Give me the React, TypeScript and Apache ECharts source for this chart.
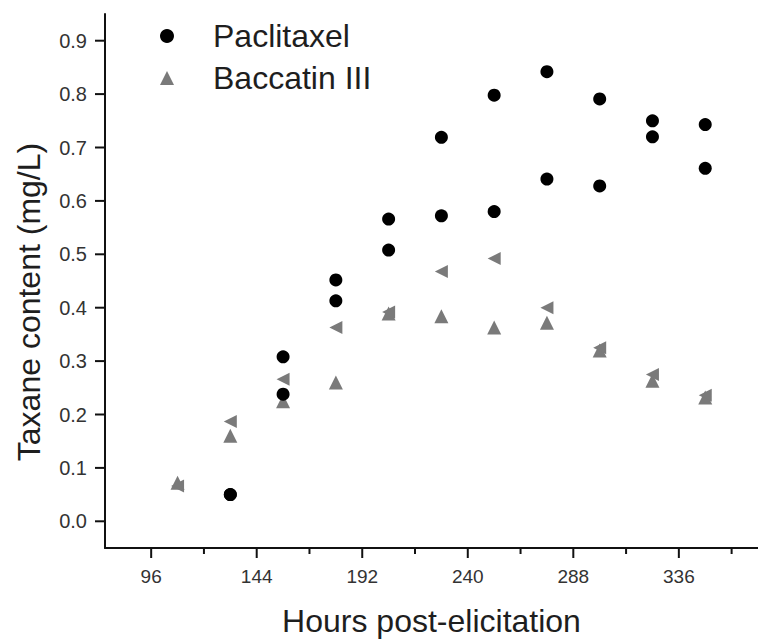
import React, { useEffect, useRef } from "react";
import * as echarts from "echarts";

const hours = [108, 132, 156, 180, 204, 228, 252, 276, 300, 324, 348];
const paclitaxelA = [null, 0.05, 0.308, 0.452, 0.566, 0.719, 0.798, 0.842, 0.791, 0.75, 0.743];
const paclitaxelB = [null, 0.05, 0.238, 0.413, 0.508, 0.572, 0.58, 0.641, 0.628, 0.72, 0.661];
const baccatinUp = [0.072, 0.16, 0.225, 0.26, 0.389, 0.384, 0.363, 0.372, 0.32, 0.263, 0.232];
const baccatinLeft = [0.066, 0.187, 0.266, 0.363, 0.392, 0.468, 0.492, 0.4, 0.325, 0.275, 0.236];
const xMajorTicks = [96, 144, 192, 240, 288, 336];
const xMinorTicks = [120, 168, 216, 264, 312, 360];
const yTicks = [0, 0.1, 0.2, 0.3, 0.4, 0.5, 0.6, 0.7, 0.8, 0.9];

const FONT = "'Liberation Sans', Arial, Helvetica, sans-serif";
const AXIS_COLOR = "#111";

function pairs(xs: number[], ys: (number | null)[]) {
  const out: number[][] = [];
  xs.forEach((x, i) => {
    const y = ys[i];
    if (y !== null && y !== undefined) out.push([x, y]);
  });
  return out;
}

export default function App() {
  const ref = useRef<HTMLDivElement>(null);
  useEffect(() => {
    document.body.style.margin = "0";
    document.body.style.overflow = "hidden";
    if (!ref.current) return;
    const chart = echarts.init(ref.current, undefined, { renderer: "svg" });
    const xMin = 75;
    const xMax = 372;
    const yMin = -0.05;
    const yMax = 0.95;

    // tick marks: [x, y, length, orientation (0 = bottom axis, 1 = left axis)]
    const tickData = [
      ...xMajorTicks.map((v) => [v, yMin, 10, 0]),
      ...xMinorTicks.map((v) => [v, yMin, 6, 0]),
      ...yTicks.map((v) => [xMin, v, 10, 1]),
    ];

    chart.setOption({
      animation: false,
      backgroundColor: "#ffffff",
      textStyle: { fontFamily: FONT },
      tooltip: { show: false },
      grid: {
        left: 105,
        right: 0,
        top: 14,
        bottom: 91,
        containLabel: false,
        outerBoundsMode: "none",
      },
      legend: {
        orient: "vertical",
        left: 160,
        top: 20,
        padding: 0,
        itemWidth: 14,
        itemHeight: 14,
        itemGap: 10,
        data: ["Paclitaxel", "Baccatin III"],
        textStyle: {
          fontFamily: FONT,
          fontSize: 32,
          lineHeight: 30,
          color: "#1e1e1e",
          padding: [0, 0, 0, 34],
        },
      },
      xAxis: {
        type: "value",
        min: xMin,
        max: xMax,
        name: "Hours post-elicitation",
        nameLocation: "middle",
        nameGap: 57,
        nameTextStyle: { fontFamily: FONT, fontSize: 32, color: "#1e1e1e" },
        axisLine: { show: true, onZero: false, lineStyle: { color: AXIS_COLOR, width: 2 } },
        axisTick: { show: false },
        axisLabel: {
          show: true,
          customValues: xMajorTicks,
          margin: 19,
          fontFamily: FONT,
          fontSize: 19,
          color: "#333",
        },
        splitLine: { show: false },
      },
      yAxis: {
        type: "value",
        min: yMin,
        max: yMax,
        name: "Taxane content (mg/L)",
        nameLocation: "middle",
        nameGap: 60,
        nameTextStyle: {
          fontFamily: FONT,
          fontSize: 32,
          color: "#1e1e1e",
          padding: [0, 42, 0, 0],
        },
        axisLine: { show: true, onZero: false, lineStyle: { color: AXIS_COLOR, width: 2 } },
        axisTick: { show: false },
        axisLabel: {
          show: true,
          customValues: yTicks,
          margin: 18,
          fontFamily: FONT,
          fontSize: 20,
          color: "#333",
          formatter: (v: number) => v.toFixed(1),
        },
        splitLine: { show: false },
      },
      series: [
        {
          name: "Baccatin III",
          type: "scatter",
          symbol: "triangle",
          symbolSize: 14,
          itemStyle: { color: "#7a7a7a", opacity: 1 },
          z: 2,
          data: pairs(hours, baccatinUp),
        },
        {
          name: "Baccatin III (replicate)",
          type: "scatter",
          symbol: "triangle",
          symbolRotate: 90,
          symbolSize: 13,
          itemStyle: { color: "#7a7a7a", opacity: 1 },
          z: 2,
          data: pairs(hours, baccatinLeft),
        },
        {
          name: "Paclitaxel",
          type: "scatter",
          symbol: "circle",
          symbolSize: 13,
          itemStyle: { color: "#000000", opacity: 1 },
          z: 3,
          data: [...pairs(hours, paclitaxelA), ...pairs(hours, paclitaxelB)],
        },
        {
          name: "axis ticks",
          type: "custom",
          silent: true,
          clip: false,
          z: 5,
          encode: { x: 0, y: 1 },
          data: tickData,
          renderItem: (_params: any, api: any) => {
            const p = api.coord([api.value(0), api.value(1)]);
            const len = api.value(2);
            const vertical = api.value(3) === 0;
            return {
              type: "line",
              shape: vertical
                ? { x1: p[0], y1: p[1], x2: p[0], y2: p[1] + len }
                : { x1: p[0] - len, y1: p[1], x2: p[0], y2: p[1] },
              style: { stroke: AXIS_COLOR, lineWidth: 2 },
            };
          },
        },
      ],
    });
    return () => chart.dispose();
  }, []);
  return (
    <div
      ref={ref}
      style={{ position: "fixed", left: 0, top: 0, width: 758, height: 639, background: "#fff" }}
    />
  );
}
